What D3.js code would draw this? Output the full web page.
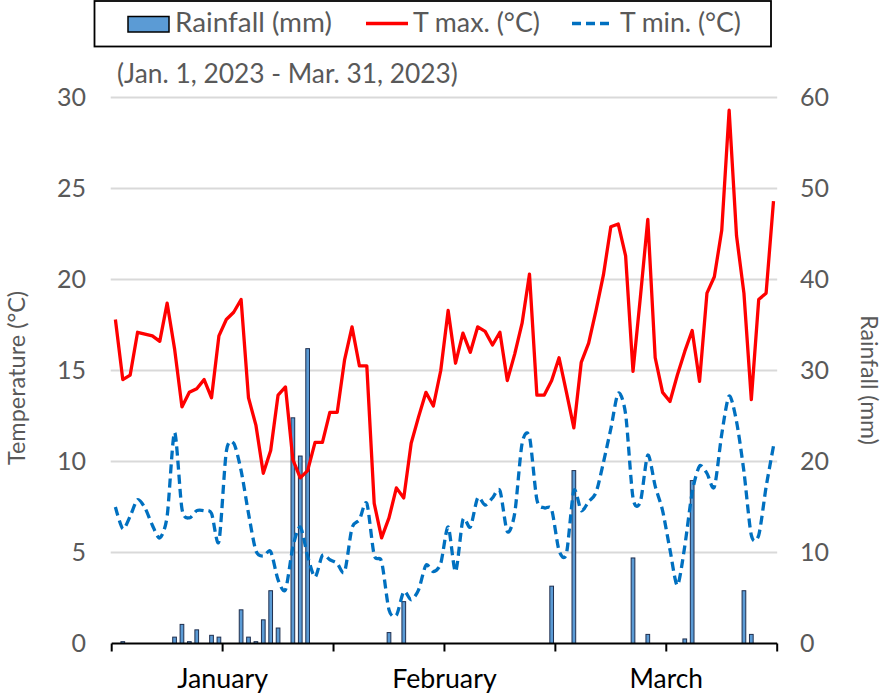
<!DOCTYPE html>
<html><head><meta charset="utf-8">
<script src="https://cdn.jsdelivr.net/npm/d3@7"></script>
<style>body{margin:0;background:#fff;} svg{display:block;font-family:Lato,"Open Sans",sans-serif;}</style>
</head><body><svg id="c" width="886" height="694"></svg>
<script>
// ---- data ----
const tmax = [
 17.8,14.5,14.75,17.1,17.0,16.9,16.6,18.7,16.2,13.0,
 13.8,14.0,14.5,13.5,16.9,17.8,18.2,18.9,13.5,12.0,
 9.35,10.6,13.65,14.1,10.1,9.1,9.5,11.05,11.05,12.7,
 12.7,15.6,17.4,15.25,15.25,7.7,5.8,6.9,8.55,8.0,
 11.0,12.45,13.8,13.05,15.0,18.3,15.4,17.05,16.0,17.4,
 17.15,16.4,17.1,14.45,15.9,17.6,20.3,13.65,13.65,14.45,
 15.7,13.8,11.85,15.45,16.5,18.3,20.25,22.9,23.05,21.3,
 14.95,19.05,23.3,15.7,13.8,13.3,14.75,16.05,17.2,14.4,
 19.25,20.15,22.7,29.3,22.4,19.25,13.4,18.9,19.25,24.3
];
const tmin = [
 7.5,6.3,7.0,7.9,7.45,6.5,5.8,7.0,11.6,7.4,
 6.9,7.3,7.3,7.15,5.6,10.55,11.0,9.5,7.15,5.1,
 4.8,5.05,3.5,2.95,5.3,6.4,4.8,3.65,4.85,4.6,
 4.4,3.95,6.35,6.8,7.7,4.85,4.5,1.85,1.55,2.85,
 2.4,2.95,4.3,3.95,4.4,6.4,3.95,6.8,6.4,8.0,
 7.6,8.0,8.4,6.15,7.15,11.0,11.35,7.9,7.45,7.35,
 5.1,4.95,8.4,7.3,7.8,8.3,9.95,11.8,13.75,12.6,
 8.0,7.8,10.35,8.65,7.3,5.15,3.2,5.35,8.3,9.75,
 9.35,8.6,11.5,13.6,12.2,9.45,5.95,5.95,8.6,10.85
];
const rain = [
 0,0.2,0,0,0,0,0,0,0.7,2.1,
 0.2,1.5,0,0.9,0.7,0,0,3.7,0.7,0.2,
 2.6,5.8,1.7,0,24.8,20.6,32.4,0,0,0,
 0,0,0,0,0,0,0,1.2,0,4.6,
 0,0,0,0,0,0,0,0,0,0,
 0,0,0,0,0,0,0,0,0,6.3,
 0,0,19.0,0,0,0,0,0,0,0,
 9.4,0,1.0,0,0,0,0,0.5,17.9,0,
 0,0,0,0,0,5.8,1.0,0,0,0
];
const tempTicks = [0,5,10,15,20,25,30];
const rainTicks = [0,10,20,30,40,50,60];
const monthLabels = ["January","February","March"];
const legendLabels = ["Rainfall (mm)","T max. (°C)","T min. (°C)"];
const subtitle = "(Jan. 1, 2023 - Mar. 31, 2023)";
const leftTitle = "Temperature (°C)";
const rightTitle = "Rainfall (mm)";
const days = d3.utcDay.range(new Date(Date.UTC(2023,0,1)), new Date(Date.UTC(2023,3,1)));

// ---- layout ----
const svg = d3.select("#c");
const P = {l:111.7, r:777.2, t:97.5, b:643.5};
const x = d3.scaleBand().domain(days).range([P.l,P.r]).paddingInner(0.5).paddingOuter(0.25);
const yT = d3.scaleLinear().domain([0,30]).range([P.b,P.t]);
const yR = d3.scaleLinear().domain([0,60]).range([P.b,P.t]);
const cx = d => x(d) + x.bandwidth()/2;
const grey = "#595959";
const FS = 24;

function fit(sel, w){
  const l = sel.node().getComputedTextLength();
  sel.attr("font-size", (+sel.attr("font-size"))*w/l);
}

// gridlines
svg.append("g").selectAll("line").data(tempTicks.filter(t=>t>0)).join("line")
  .attr("x1", P.l-1).attr("x2", P.r)
  .attr("y1", d=>yT(d)).attr("y2", d=>yT(d))
  .attr("stroke", "#d9d9d9").attr("stroke-width", 2);

// bars
svg.append("g").selectAll("rect").data(days.map((d,i)=>({d, v:rain[i]})).filter(o=>o.v>0)).join("rect")
  .attr("x", o=>x(o.d)).attr("width", x.bandwidth())
  .attr("y", o=>yR(o.v)).attr("height", o=>yR(0)-yR(o.v))
  .attr("fill", "#5b9bd5").attr("stroke", "#1f2f4f").attr("stroke-width", 1);

// x axis
const ax = svg.append("g");
ax.append("line").attr("x1", P.l).attr("x2", P.r).attr("y1", yT(0)).attr("y2", yT(0))
  .attr("stroke", "#000").attr("stroke-width", 2);
const tickIdx = d3.range(0, days.length+1, 15);
const edge = i => i < days.length ? x(days[i]) + x.bandwidth()/2 - x.step()/2 : P.r;
ax.selectAll(".tk").data(tickIdx).join("line")
  .attr("x1", edge).attr("x2", edge).attr("y1", yT(0)).attr("y2", yT(0)+8)
  .attr("stroke", "#000").attr("stroke-width", 2);
const monthTargets = [91, 104.5, 73.4];
monthLabels.forEach((m,k)=>{
  const t = ax.append("text").attr("x", edge(15+30*k)).attr("y", 688)
    .attr("text-anchor","middle").attr("fill","#000").attr("font-size", FS).text(m);
  fit(t, monthTargets[k]);
});

// y axes
const gl = svg.append("g").attr("transform", `translate(86,0)`)
  .call(d3.axisLeft(yT).tickValues(tempTicks).tickSize(0).tickPadding(0));
gl.select(".domain").remove();
gl.selectAll("text").attr("font-size", 25).attr("fill", grey).attr("font-family","Lato");
const gr = svg.append("g").attr("transform", `translate(800,0)`)
  .call(d3.axisRight(yR).tickValues(rainTicks).tickSize(0).tickPadding(0));
gr.select(".domain").remove();
gr.selectAll("text").attr("font-size", 25).attr("fill", grey).attr("font-family","Lato");

svg.append("text").attr("transform","translate(25,378) rotate(-90)").attr("text-anchor","middle")
  .attr("fill", grey).attr("font-size", 23.5).text(leftTitle);
svg.append("text").attr("transform","translate(861,380) rotate(90)").attr("text-anchor","middle")
  .attr("fill", grey).attr("font-size", 23).text(rightTitle);

// lines
svg.append("path").datum(tmin)
  .attr("d", d3.line().x((v,i)=>cx(days[i])).y(v=>yT(v)).curve(d3.curveCardinal.tension(0.2)))
  .attr("fill","none").attr("stroke","#0070c0").attr("stroke-width",3.3).attr("stroke-dasharray","9,5");
svg.append("path").datum(tmax)
  .attr("d", d3.line().x((v,i)=>cx(days[i])).y(v=>yT(v)))
  .attr("fill","none").attr("stroke","#ff0000").attr("stroke-width",3.3).attr("stroke-linejoin","round");

// subtitle
const st = svg.append("text").attr("x",117).attr("y",83).attr("fill",grey).attr("font-size",FS).text(subtitle);
fit(st, 341);

// legend
const lg = svg.append("g");
lg.append("rect").attr("x",94.5).attr("y",1).attr("width",676.5).attr("height",45.5)
  .attr("fill","#fff").attr("stroke","#000").attr("stroke-width",1.8);
lg.append("rect").attr("x",128).attr("y",16.5).attr("width",41).attr("height",15.5)
  .attr("fill","#5b9bd5").attr("stroke","#000").attr("stroke-width",1.5);
lg.append("line").attr("x1",366).attr("x2",408).attr("y1",23.5).attr("y2",23.5)
  .attr("stroke","#ff0000").attr("stroke-width",3.3);
lg.append("line").attr("x1",572).attr("x2",612).attr("y1",23.5).attr("y2",23.5)
  .attr("stroke","#0070c0").attr("stroke-width",3.3).attr("stroke-dasharray","9,5");
const lx = [175,413,620], lw = [157,127,121];
legendLabels.forEach((s,k)=>{
  const t = lg.append("text").attr("x",lx[k]).attr("y",32).attr("fill",grey).attr("font-size",FS).text(s);
  fit(t, lw[k]);
});
</script></body></html>
